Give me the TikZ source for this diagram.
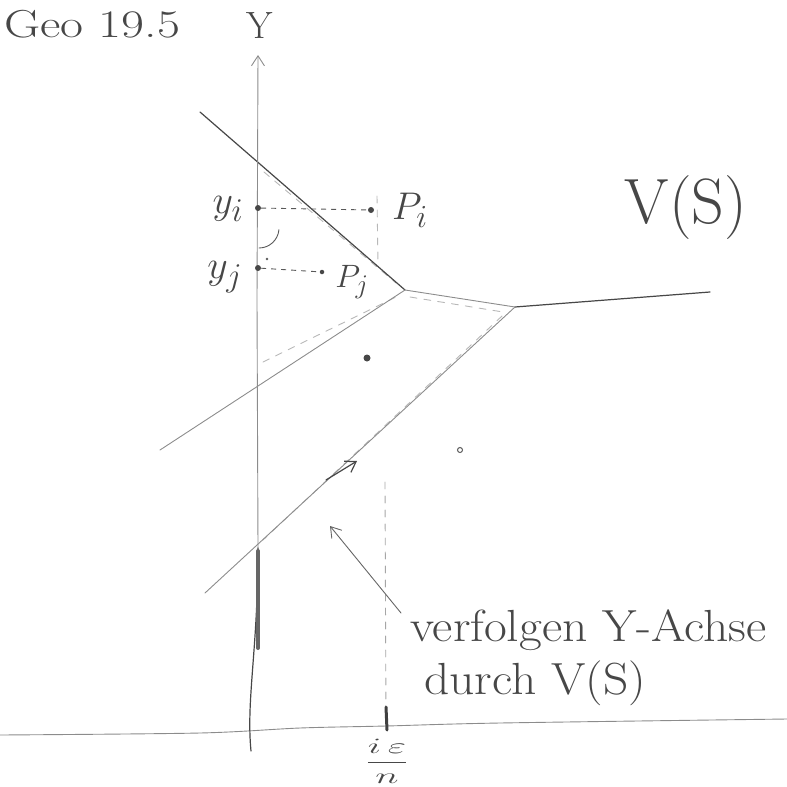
\documentclass[tikz,border=0pt]{standalone}
\usetikzlibrary{arrows.meta,calc}
\begin{document}
\begin{tikzpicture}[x=1pt,y=-1pt,
  pencil/.style={draw=black!72, line width=1.2pt, line cap=round, line join=round},
  light/.style={draw=black!45, line width=0.9pt, line cap=round, line join=round},
  trace/.style={draw=black!28, line width=0.9pt, line cap=round, dash pattern=on 7pt off 7pt},
  guide/.style={draw=black!65, line width=0.9pt, dash pattern=on 5pt off 5pt},
  hand/.style={text=black!72, inner sep=0pt},
  mlabel/.style={hand, font=\Huge},
  site/.style={circle, fill=black!72, inner sep=0pt, minimum size=6pt},
  barb/.style={-{Straight Barb[length=10pt,width=13pt]}},
]
\useasboundingbox (0,0) rectangle (787,787);

% Voronoi vertices and edge ends
\coordinate (v1) at (405,290);
\coordinate (v2) at (515,307);
\coordinate (e1) at (200,112);
\coordinate (e2) at (710,292);
\coordinate (e3) at (160,450);
\coordinate (e4) at (205,593);

% traced (dashed) offsets inside the cells
\draw[trace] (264,172) -- (396,283);
\draw[trace] (263,362) -- (398,296);
\draw[trace] (410,297) -- (503,312);
\draw[trace] (502,316) -- (263,540);
\draw[trace] (377,196) -- (378,266);

% Voronoi edges
\draw[pencil] (e1) -- (v1);
\draw[pencil] (v2) -- (e2);
\draw[light] (v1) -- (v2);
\draw[light] (v1) -- (e3);
\draw[light] (v2) -- (e4);

% x-axis
\coordinate (xl) at (0,735);
\coordinate (xr) at (787,719);
\draw[light] plot[smooth] coordinates {(xl) (200,733) (300,728) (386,726) (500,723) (xr)};

% y-axis
\coordinate (yt) at (258,55);
\coordinate (ya) at (258,548);
\coordinate (yb) at (251,751);
\draw[light, barb] (ya) -- (257,300) -- (yt);
\draw[pencil] (ya) .. controls (258,650) and (246,700) .. (yb);
\draw[draw=black!60, line width=4pt, line cap=round] (258,551) -- (258,648);
\node[hand, font=\fontsize{38}{40}\selectfont] (ylab) at (260,26) {Y};

% dashed vertical at i eps / n
\coordinate (xtop) at (385,482);
\coordinate (xfoot) at (386,724);
\draw[trace, draw=black!35] (xtop) -- (xfoot);
\draw[draw=black!75, line width=3pt, line cap=round] (386,707) -- (387,730);
\node[mlabel] (ieps) at (387,761) {\scalebox{1.6}[0.88]{$\displaystyle\frac{i\,\varepsilon}{n}$}};

% sites and axis points
\node[site] (yi) at (258,208) {};
\node[site] (yj) at (258,268) {};
\node[site] (pi) at (371,210) {};
\node[site, minimum size=4.5pt] (pj) at (322,272) {};
\node[site, minimum size=7pt] (s1) at (367,358) {};
\node[circle, draw=black!65, line width=1pt, inner sep=0pt, minimum size=5pt] (s2) at (460,450) {};

\draw[guide] (yi) -- (pi);
\draw[guide] (yj) -- (pj);

% right angle mark
\draw[light, draw=black!65] (259,248) arc[start angle=90, end angle=5, radius=20];
\fill[black!65] (267,259) circle (1.3pt);

% labels
\node[mlabel] (lyi) at (228,209) {\scalebox{1.6}{$y_i$}};
\node[mlabel] (lyj) at (225,277) {\scalebox{1.6}{$y_j$}};
\node[mlabel] (lpi) at (410,210) {\scalebox{1.55}{$P_i$}};
\node[mlabel] (lpj) at (352,282) {\scalebox{1.3}{$P_j$}};
\node[hand, font=\fontsize{64}{68}\selectfont] (vs) at (686,208) {V(S)};
\node[hand, font=\fontsize{39}{42}\selectfont, anchor=west] (geo) at (4,24) {\scalebox{1.28}[1]{Geo 19.5}};

% arrow along the traced edge
\draw[pencil, barb] (326,480) -- (357,461);

% annotation
\node[hand, font=\fontsize{45}{48}\selectfont, anchor=base west] (ann1) at (410,641) {\scalebox{1.1}[1]{verfolgen Y-Achse}};
\node[hand, font=\fontsize{45}{48}\selectfont, anchor=base west] (ann2) at (424,694) {\scalebox{1.1}[1]{durch V(S)}};
\coordinate (astart) at (401,613);
\coordinate (atip) at (330,526);
\draw[light, draw=black!60, barb] (astart) -- (atip);
\end{tikzpicture}
\end{document}
